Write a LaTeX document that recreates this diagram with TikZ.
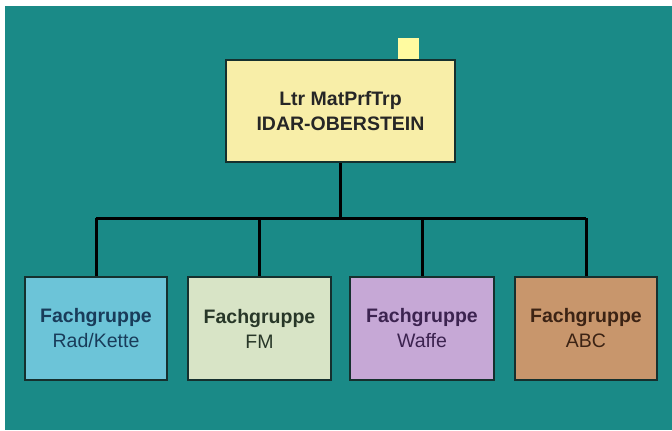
\documentclass[tikz,border=0pt]{standalone}
\usepackage{fontspec}
\setmainfont{Liberation Sans}
\definecolor{bgteal}{HTML}{1A8A87}
\definecolor{topfill}{HTML}{F8EEA8}
\definecolor{sqyellow}{HTML}{FFFBA0}
\definecolor{boxline}{HTML}{15302E}
\definecolor{rkfill}{HTML}{6CC4D8}
\definecolor{fmfill}{HTML}{D8E4C6}
\definecolor{wafill}{HTML}{C6A8D6}
\definecolor{abcfill}{HTML}{C8966C}
\begin{document}
\begin{tikzpicture}[x=1bp,y=-1bp,
    every node/.style={font=\fontsize{19.5bp}{25bp}\selectfont, align=center, inner sep=0pt},
    unitbox/.style={draw=boxline, line width=2.5bp, minimum height=103bp},
    link/.style={draw=black, line width=3bp}]
                \useasboundingbox (0,0) rectangle (672,430);
                \fill[white] (0,0) rectangle (672,430);
                \fill[bgteal] (5,6) rectangle (672,430);
                \node[unitbox, fill=topfill, minimum width=229bp, minimum height=102bp, text=black!85] (top) at (340.5,111)
                    {\textbf{Ltr MatPrfTrp}\\\textbf{IDAR-OBERSTEIN}};
                \fill[sqyellow] (398,38) rectangle (419,59);
                \node[unitbox, fill=rkfill, minimum width=142bp, text={rgb,255:red,25;green,60;blue,90}] (rk) at (96,328.5)
                    {\textbf{Fachgruppe}\\Rad/Kette};
                \node[unitbox, fill=fmfill, minimum width=143bp, text={rgb,255:red,40;green,55;blue,40}] (fm) at (259.5,328.5)
                    {\textbf{Fachgruppe}\\FM};
                \node[unitbox, fill=wafill, minimum width=144bp, text={rgb,255:red,60;green,35;blue,80}] (waffe) at (422,328.5)
                    {\textbf{Fachgruppe}\\Waffe};
                \node[unitbox, fill=abcfill, minimum width=142bp, text={rgb,255:red,60;green,35;blue,20}] (abc) at (586,328.5)
                    {\textbf{Fachgruppe}\\ABC};
                \coordinate (bar) at (340.5,218);
                \draw[link] (top.south) -- (top.south |- bar);
                \draw[link] (rk.north |- bar) -- (abc.north |- bar);
                \draw[link] (rk.north |- bar) -- (rk.north);
                \draw[link] (fm.north |- bar) -- (fm.north);
                \draw[link] (waffe.north |- bar) -- (waffe.north);
                \draw[link] (abc.north |- bar) -- (abc.north);
            \end{tikzpicture}
\end{document}
